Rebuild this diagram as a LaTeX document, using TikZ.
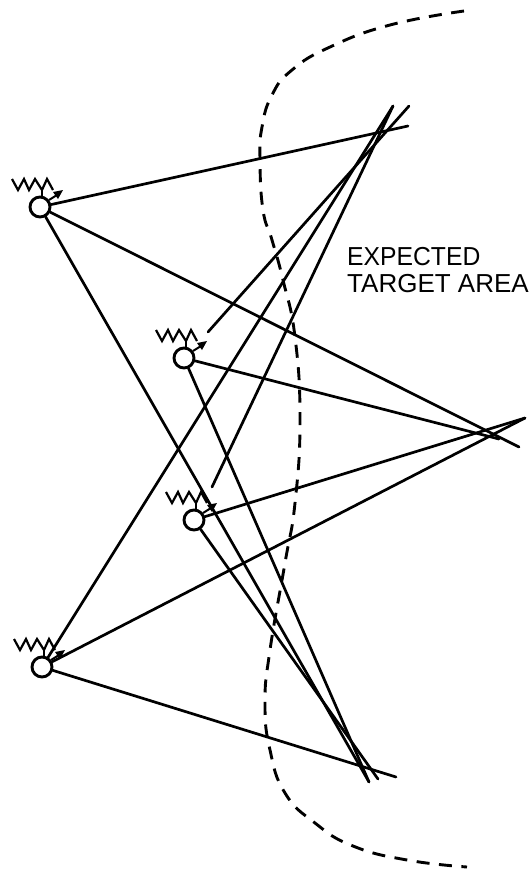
\documentclass[tikz,border=0pt]{standalone}
\usepackage{fontspec}
\setmainfont{Liberation Sans}
\begin{document}
\begin{tikzpicture}[x=1pt,y=-1pt,
  beam/.style={line width=2.7pt,line cap=round},
  source/.style={circle,draw,fill=white,line width=2.9pt,minimum size=20pt,inner sep=0pt},
  wave/.pic={
    \draw[line width=2.2pt,line join=miter] (-28,-28)--(-22,-17)--(-16,-28)--(-11,-17)--(-5,-28)--(2,-17)--(7,-28)--(13,-17);
    \draw[line width=2.2pt] (2,-17)--(2,-9);
    \draw[line width=2pt] (9,-7)--(17,-12);
    \fill (23,-17)--(13,-15)--(18,-8)--cycle;
  },
  label/.style={font=\fontsize{26}{28}\selectfont,inner sep=0pt,anchor=base west}]
\useasboundingbox (0,0) rectangle (532,871);
\fill[white] (0,0) rectangle (532,871);
\node[source] (a) at (40,207) {};
\node[source] (b) at (184,358) {};
\node[source] (c) at (194,520) {};
\node[source] (d) at (42,667) {};
\pic at (a) {wave};
\pic at (b) {wave};
\pic at (c) {wave};
\pic at (d) {wave};
\coordinate (t1) at (408,126);
\coordinate (t2) at (409,106);
\coordinate (t3) at (393,106);
\coordinate (r1) at (519,447);
\coordinate (r2) at (499,439);
\coordinate (r3) at (525,418);
\coordinate (s1) at (369,782);
\coordinate (s2) at (378,779);
\coordinate (s3) at (396,777);
\coordinate (bs) at (208,332);
\coordinate (cs) at (212,487);
\draw[beam] (a)--(t1);
\draw[beam] (a)--(r1);
\draw[beam] (a)--(s1);
\draw[beam] (bs)--(t2);
\draw[beam] (b)--(r2);
\draw[beam] (b)--(s1);
\draw[beam] (cs)--(t3);
\draw[beam] (c)--(r3);
\draw[beam] (c)--(s2);
\draw[beam] (d)--(t3);
\draw[beam] (d)--(r3);
\draw[beam] (d)--(s3);
\draw[line width=2.9pt,dash pattern=on 13pt off 9.5pt]
  plot[smooth,tension=0.8] coordinates {
  (464,11) (390,25) (330,47) (292,70) (272,95)
  (262,127) (260,160) (263,210) (272,240) (283,280) (295,337) (300,420)
  (295,503) (285,563) (270,650) (265,703)
  (270,750) (285,793) (315,823) (353,846) (407,860)
  (467,867)};
\node[label] (l1) at (347,265) {\scalebox{0.95}[1]{EXPECTED}};
\node[label] (l2) at (347,292) {TARGET AREA};
\end{tikzpicture}
\end{document}
